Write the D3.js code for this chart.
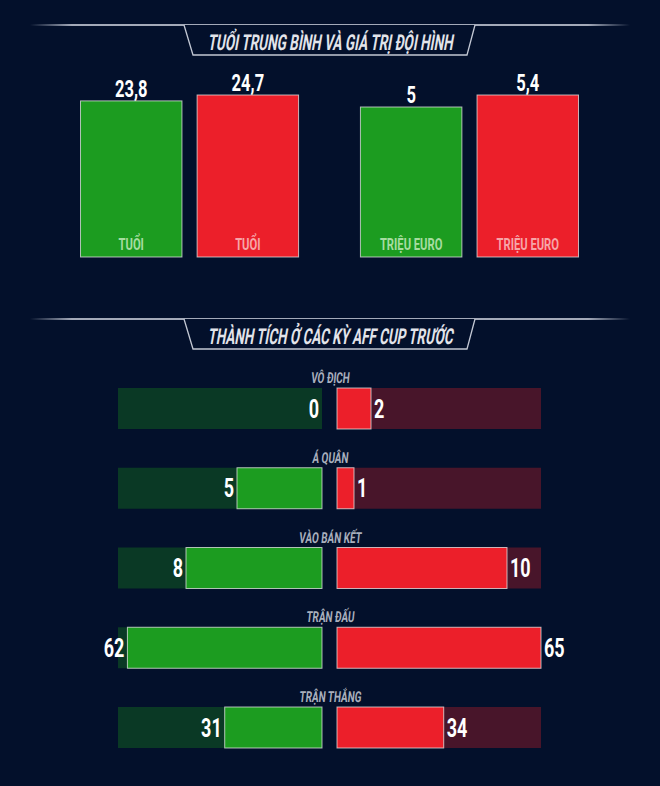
<!DOCTYPE html>
<html><head><meta charset="utf-8">
<script src="https://cdn.jsdelivr.net/npm/d3@7"></script>
<style>
html,body{margin:0;padding:0;background:#03102b;}
svg{display:block;}
</style></head>
<body>
<svg id="chart" width="660" height="786"></svg>
<script>
// ---- data ----
const sectionTitles = ["TUỔI TRUNG BÌNH VÀ GIÁ TRỊ ĐỘI HÌNH", "THÀNH TÍCH Ở CÁC KỲ AFF CUP TRƯỚC"];
const topGroups = ["Tuổi trung bình", "Giá trị đội hình"];
const topUnits = ["TUỔI", "TRIỆU EURO"];
const topGreen = [23.8, 5];
const topRed = [24.7, 5.4];

const categories = ["VÔ ĐỊCH", "Á QUÂN", "VÀO BÁN KẾT", "TRẬN ĐẤU", "TRẬN THẮNG"];
const greenVals = [0, 5, 8, 62, 31];
const redVals = [2, 1, 10, 65, 34];
const rowMax = [12, 12, 12, 65, 65];

// ---- styles ----
const BG = "#03102b", GREEN = "#1c9c20", RED = "#ec1f2a";
const GREEN_DARK = "#0a3925", RED_DARK = "#48152a";
const FONT = "Roboto,'Noto Sans',sans-serif";

const svg = d3.select("#chart");
const defs = svg.append("defs");
const grad = defs.append("linearGradient").attr("id", "lineGrad").attr("x1", "0").attr("x2", "1").attr("y1", "0").attr("y2", "0");
[[0, 0], [0.07, 0.85], [0.93, 0.85], [1, 0]].forEach(([o, a]) =>
  grad.append("stop").attr("offset", o).attr("stop-color", "#c0c5d2").attr("stop-opacity", a));

const fmt = d3.formatLocale({decimal: ",", thousands: ".", grouping: [3], currency: ["", ""]}).format("~g");

// condensed text helper
function ctext(parent, x, y, txt, opts) {
  return parent.append("text")
    .attr("transform", `translate(${x},${y}) scale(${opts.sx || 0.72},1)${opts.italic ? " skewX(-9)" : ""}`)
    .attr("text-anchor", opts.anchor || "middle")
    .attr("font-family", FONT).attr("font-weight", opts.weight || "bold")
    .attr("font-size", opts.size).attr("fill", opts.fill).text(txt);
}

function sectionHeader(y, text) {
  svg.append("rect").attr("x", 30).attr("y", y - 1).attr("width", 600).attr("height", 2).attr("fill", "url(#lineGrad)");
  svg.append("path")
    .attr("d", `M184,${y} L193,${y + 30} L467,${y + 30} L475,${y}`)
    .attr("fill", BG).attr("stroke", "#c3c8d4").attr("stroke-width", 1.3);
  svg.append("text").attr("transform", `translate(330,${y + 24.5}) skewX(-10)`)
    .attr("text-anchor", "middle")
    .attr("textLength", 245).attr("lengthAdjust", "spacingAndGlyphs")
    .attr("font-family", FONT).attr("font-weight", "bold")
    .attr("font-size", 22).attr("fill", "#e2e4ea").text(text);
}
sectionHeader(25, sectionTitles[0]);
sectionHeader(319, sectionTitles[1]);

// ---- top grouped bars ----
const x0 = d3.scaleBand().domain(topGroups).range([80.5, 578.5]).paddingInner(0.221).paddingOuter(0);
const x1 = d3.scaleBand().domain(["g", "r"]).range([0, x0.bandwidth()]).paddingInner(0.13);
const topBottom = 257, topTop = 95;

topGroups.forEach((grp, i) => {
  const y = d3.scaleLinear().domain([0, Math.max(topGreen[i], topRed[i])]).range([topBottom, topTop]);
  const items = [{k: "g", v: topGreen[i], c: GREEN, tc: "#a6dca0"}, {k: "r", v: topRed[i], c: RED, tc: "#f6a5a8"}];
  const g = svg.append("g").attr("transform", `translate(${x0(grp)},0)`);
  items.forEach(d => {
    g.append("rect").attr("x", x1(d.k)).attr("y", y(d.v)).attr("width", x1.bandwidth()).attr("height", topBottom - y(d.v))
      .attr("fill", d.c).attr("stroke", "#e6e6e6").attr("stroke-opacity", 0.75).attr("stroke-width", 1);
    ctext(g, x1(d.k) + x1.bandwidth() / 2, y(d.v) - 4, fmt(d.v), {size: 23, fill: "#fff", sx: 0.72});
    ctext(g, x1(d.k) + x1.bandwidth() / 2, 250, topUnits[i], {size: 17, fill: d.tc, sx: 0.66});
  });
});

// ---- butterfly rows ----
const rowY = d3.scalePoint().domain(categories).range([388, 707]);
const barH = 41, leftEnd = 322, rightStart = 337, halfW = 204;

categories.forEach((cat, i) => {
  const s = d3.scaleLinear().domain([0, rowMax[i]]).range([0, halfW]);
  const y = rowY(cat);
  ctext(svg, 330, y - 5, cat, {size: 15, fill: "#a9afbd", sx: 0.66, italic: true});
  svg.append("rect").attr("x", leftEnd - halfW).attr("y", y).attr("width", halfW).attr("height", barH).attr("fill", GREEN_DARK);
  svg.append("rect").attr("x", rightStart).attr("y", y).attr("width", halfW).attr("height", barH).attr("fill", RED_DARK);
  const gw = s(greenVals[i]), rw = s(redVals[i]);
  if (gw > 0) svg.append("rect").attr("x", leftEnd - gw).attr("y", y).attr("width", gw).attr("height", barH)
    .attr("fill", GREEN).attr("stroke", "#e6e6e6").attr("stroke-opacity", 0.75);
  if (rw > 0) svg.append("rect").attr("x", rightStart).attr("y", y).attr("width", rw).attr("height", barH)
    .attr("fill", RED).attr("stroke", "#e6e6e6").attr("stroke-opacity", 0.75);
  ctext(svg, leftEnd - gw - 3, y + barH / 2 + 9, fmt(greenVals[i]), {size: 25, fill: "#fff", sx: 0.72, anchor: "end"});
  ctext(svg, rightStart + rw + 3, y + barH / 2 + 9, fmt(redVals[i]), {size: 25, fill: "#fff", sx: 0.72, anchor: "start"});
});
</script>
</body></html>
